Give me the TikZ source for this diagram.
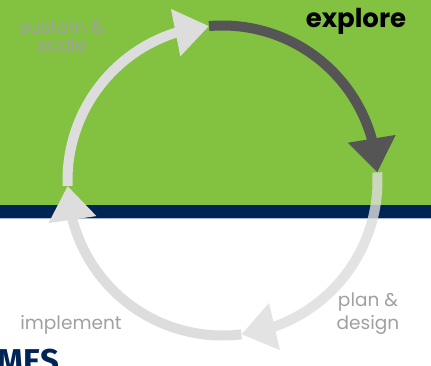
\documentclass[tikz,border=0pt]{standalone}
\usepackage{fontspec}
\setmainfont{Poppins}
\newfontfamily\titlefont{Fira Sans}
\usetikzlibrary{arrows.meta,bending}
\definecolor{bggreen}{RGB}{131,193,65}
\definecolor{navy}{RGB}{0,36,84}
\definecolor{bandline}{RGB}{170,186,210}
\definecolor{arclight}{RGB}{221,221,221}
\definecolor{arcdark}{RGB}{85,85,85}
\definecolor{labelgray}{RGB}{160,160,160}
\tikzset{
  cyc/.style={line width=10pt, -{Triangle[width=46pt,length=34pt,flex]}},
  lbl/.style={text=labelgray, inner sep=0pt, align=center},
}
\begin{document}
\begin{tikzpicture}[x=1pt,y=1pt]
\useasboundingbox (0,0) rectangle (431,366);
\clip (0,0) rectangle (431,366);
\fill[white] (0,0) rectangle (431,366);
\fill[bggreen] (0,161) rectangle (431,366);
\fill[navy] (0,148) rectangle (431,161);
\fill[bandline] (0,147) rectangle (431,148);
% cycle geometry
\coordinate (c) at (222.5,185.5);
\path (c) ++(95:155) coordinate (pTop);
\path (c) ++(3:155) coordinate (pRight);
\path (c) ++(-83:155) coordinate (pBot);
\path (c) ++(182:155) coordinate (pLeft);
% arcs
\begin{scope}[transparency group, opacity=.8]
\draw[cyc, arclight] (pRight) arc[start angle=3, end angle=-83, radius=155];
\end{scope}
\draw[cyc, arcdark] (pTop) arc[start angle=95, end angle=3, radius=155];
\draw[cyc, arclight] (pBot) arc[start angle=-83, end angle=-178, radius=155];
\draw[cyc, arclight] (pLeft) arc[start angle=182, end angle=95, radius=155];
% labels
\node[anchor=base, inner sep=0pt, font=\fontsize{26}{30}\selectfont\bfseries] (explore) at (356,338) {explore};
\node[lbl, anchor=base, font=\fontsize{18.5}{18}\selectfont] (sustain) at (62,314) {sustain \&\\scale};
\node[lbl, anchor=base, font=\fontsize{18.5}{20}\selectfont] (implement) at (71,36) {implement};
\node[lbl, anchor=base, font=\fontsize{18.5}{23}\selectfont] (plan) at (368,36) {plan \&\\design};
\node[anchor=north east, inner sep=0pt, text=navy, font=\fontsize{33}{36}\selectfont\titlefont\bfseries] (title) at (60,17) {MES};
\end{tikzpicture}
\end{document}
